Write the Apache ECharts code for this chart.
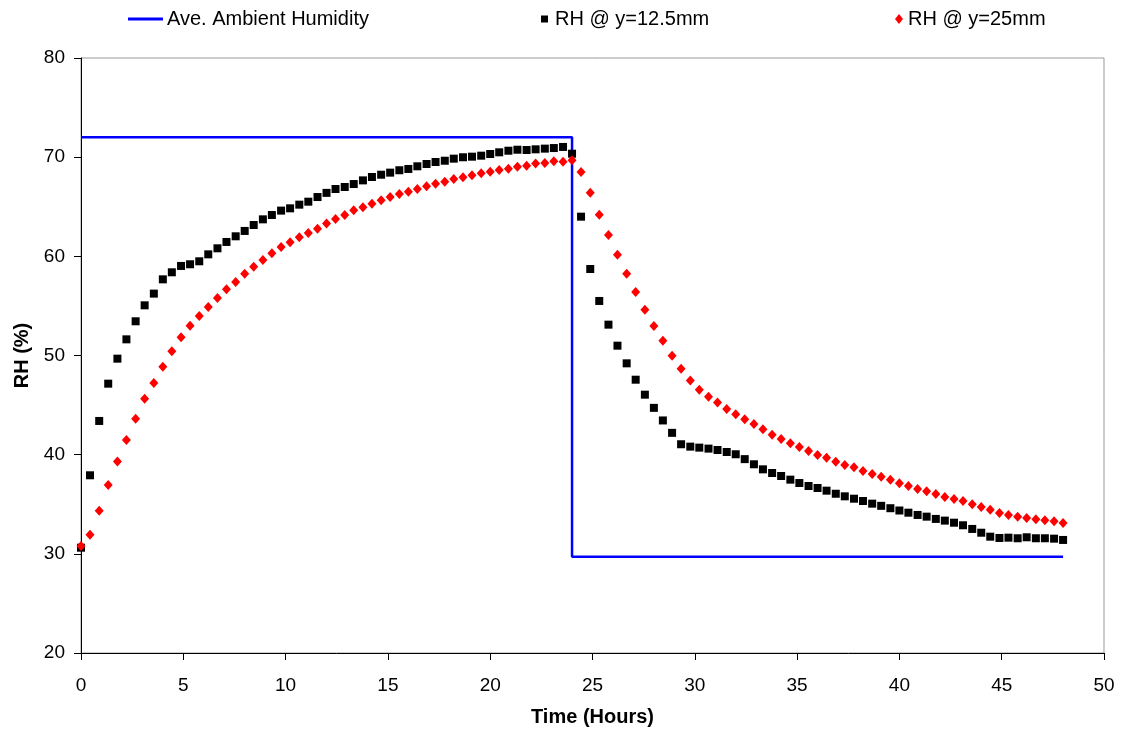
<!DOCTYPE html>
<html>
<head>
<meta charset="utf-8">
<script src="https://cdn.jsdelivr.net/npm/echarts@6/dist/echarts.min.js"></script>
<style>
html,body{margin:0;padding:0;background:#fff;}
#chart{width:1124px;height:733px;}
</style>
</head>
<body>
<div id="chart"></div>
<script>
// Time (hours) of each sample
const timeHours = [
  0, 0.44, 0.89, 1.33, 1.78, 2.22, 2.67, 3.11, 3.56,
  4, 4.44, 4.89, 5.33, 5.78, 6.22, 6.67, 7.11, 7.56,
  8, 8.44, 8.89, 9.33, 9.78, 10.22, 10.67, 11.11, 11.56,
  12, 12.44, 12.89, 13.33, 13.78, 14.22, 14.67, 15.11, 15.56,
  16, 16.44, 16.89, 17.33, 17.78, 18.22, 18.67, 19.11, 19.56,
  20, 20.44, 20.89, 21.33, 21.78, 22.22, 22.67, 23.11, 23.56,
  24, 24.44, 24.89, 25.33, 25.78, 26.22, 26.67, 27.11, 27.56,
  28, 28.44, 28.89, 29.33, 29.78, 30.22, 30.67, 31.11, 31.56,
  32, 32.44, 32.89, 33.33, 33.78, 34.22, 34.67, 35.11, 35.56,
  36, 36.44, 36.89, 37.33, 37.78, 38.22, 38.67, 39.11, 39.56,
  40, 40.44, 40.89, 41.33, 41.78, 42.22, 42.67, 43.11, 43.56,
  44, 44.44, 44.89, 45.33, 45.78, 46.22, 46.67, 47.11, 47.56,
  48
];

// RH @ y=12.5mm (%)
const rh125 = [
  30.62, 37.92, 43.40, 47.16, 49.68, 51.63, 53.45, 55.06, 56.24,
  57.68, 58.39, 59.03, 59.20, 59.50, 60.20, 60.81, 61.45, 62.02,
  62.56, 63.16, 63.73, 64.17, 64.61, 64.84, 65.21, 65.51, 65.98,
  66.40, 66.79, 66.99, 67.29, 67.66, 68.00, 68.23, 68.44, 68.68,
  68.81, 69.08, 69.31, 69.51, 69.64, 69.85, 69.99, 70.05, 70.15,
  70.32, 70.49, 70.65, 70.75, 70.72, 70.79, 70.86, 70.92, 71.03,
  70.35, 64.00, 58.72, 55.50, 53.11, 50.99, 49.21, 47.56, 46.05,
  44.72, 43.45, 42.20, 41.05, 40.81, 40.71, 40.61, 40.47, 40.27,
  40.04, 39.55, 39.03, 38.52, 38.15, 37.85, 37.48, 37.14, 36.84,
  36.64, 36.37, 36.06, 35.80, 35.56, 35.33, 35.06, 34.84, 34.60,
  34.37, 34.15, 33.92, 33.75, 33.52, 33.35, 33.14, 32.88, 32.51,
  32.13, 31.73, 31.60, 31.63, 31.57, 31.67, 31.57, 31.57, 31.53,
  31.40
];

// RH @ y=25mm (%)
const rh25 = [
  30.79, 31.93, 34.35, 36.94, 39.30, 41.48, 43.63, 45.65, 47.23,
  48.87, 50.42, 51.83, 53.01, 53.98, 54.89, 55.80, 56.67, 57.41,
  58.25, 58.96, 59.63, 60.30, 60.94, 61.41, 61.92, 62.35, 62.79,
  63.30, 63.77, 64.17, 64.64, 64.94, 65.31, 65.65, 65.98, 66.29,
  66.52, 66.79, 67.06, 67.33, 67.53, 67.80, 67.97, 68.17, 68.37,
  68.54, 68.71, 68.84, 69.04, 69.14, 69.35, 69.41, 69.58, 69.55,
  69.68, 68.50, 66.42, 64.20, 62.15, 60.17, 58.25, 56.40, 54.62,
  52.98, 51.49, 49.97, 48.66, 47.47, 46.55, 45.83, 45.25, 44.60,
  44.07, 43.58, 43.09, 42.56, 42.02, 41.58, 41.15, 40.77, 40.37,
  39.97, 39.70, 39.29, 38.96, 38.73, 38.35, 38.05, 37.78, 37.48,
  37.12, 36.84, 36.54, 36.31, 36.04, 35.73, 35.53, 35.33, 35.00,
  34.72, 34.45, 34.12, 33.92, 33.75, 33.62, 33.48, 33.38, 33.28,
  33.11
];

// Average ambient humidity (step profile)
const ambientTime = [0, 24, 24, 48];
const ambientRH   = [72, 72, 29.7, 29.7];

const seriesNames = ['Ave. Ambient Humidity', 'RH @ y=12.5mm', 'RH @ y=25mm'];
const xTicks = { min: 0, max: 50, interval: 5 };
const yTicks = { min: 20, max: 80, interval: 10 };

const FONT = 'Liberation Sans, Arial, sans-serif';
const zip = (xs, ys) => xs.map((x, i) => [x, ys[i]]);

const chart = echarts.init(document.getElementById('chart'), null, { renderer: 'canvas' });
chart.setOption({
  animation: false,
  backgroundColor: '#fff',
  textStyle: { fontFamily: FONT },
  grid: { left: 81, right: 20, top: 58, bottom: 80, show: true, borderColor: '#999', borderWidth: 1 },
  legend: [
    { left: 123, top: 4, selectedMode: false, itemWidth: 35, itemHeight: 3,
      data: [{ name: seriesNames[0], icon: 'rect' }],
      textStyle: { fontFamily: FONT, fontSize: 20, color: '#000', padding: [0, 0, 0, -1] } },
    { left: 536, top: 4, selectedMode: false, itemWidth: 7, itemHeight: 7,
      data: [{ name: seriesNames[1], icon: 'rect' }],
      textStyle: { fontFamily: FONT, fontSize: 20, color: '#000', padding: [0, 0, 0, 2] } },
    { left: 890, top: 4, selectedMode: false, itemWidth: 8, itemHeight: 10,
      data: [{ name: seriesNames[2], icon: 'diamond' }],
      textStyle: { fontFamily: FONT, fontSize: 20, color: '#000', padding: [0, 0, 0, 0] } }
  ],
  xAxis: {
    type: 'value', min: xTicks.min, max: xTicks.max, interval: xTicks.interval,
    name: 'Time (Hours)', nameLocation: 'middle', nameGap: 54,
    nameTextStyle: { fontFamily: FONT, fontSize: 20, fontWeight: 'bold', color: '#000' },
    axisLine: { show: true, onZero: false, lineStyle: { color: '#000', width: 1 } },
    axisTick: { show: true, inside: false, length: 7, lineStyle: { color: '#000' } },
    axisLabel: { margin: 23, fontFamily: FONT, fontSize: 19, color: '#000' },
    splitLine: { show: false }
  },
  yAxis: {
    type: 'value', min: yTicks.min, max: yTicks.max, interval: yTicks.interval,
    name: 'RH (%)', nameLocation: 'middle', nameGap: 49,
    nameTextStyle: { fontFamily: FONT, fontSize: 20, fontWeight: 'bold', color: '#000' },
    axisLine: { show: true, onZero: false, lineStyle: { color: '#000', width: 1 } },
    axisTick: { show: true, inside: false, length: 7, lineStyle: { color: '#000' } },
    axisLabel: { margin: 16, fontFamily: FONT, fontSize: 19, color: '#000' },
    splitLine: { show: false }
  },
  series: [
    { name: seriesNames[0], type: 'line', data: zip(ambientTime, ambientRH),
      showSymbol: false, symbol: 'none', color: '#0000FF',
      lineStyle: { color: '#0000FF', width: 2.5 }, z: 1 },
    { name: seriesNames[1], type: 'scatter', data: zip(timeHours, rh125),
      symbol: 'rect', symbolSize: 8, color: '#000',
      itemStyle: { color: '#000', opacity: 1 }, z: 2 },
    { name: seriesNames[2], type: 'scatter', data: zip(timeHours, rh25),
      symbol: 'diamond', symbolSize: [9, 10], color: '#FF0000',
      itemStyle: { color: '#FF0000', opacity: 1 }, z: 3 }
  ]
});
</script>
</body>
</html>
